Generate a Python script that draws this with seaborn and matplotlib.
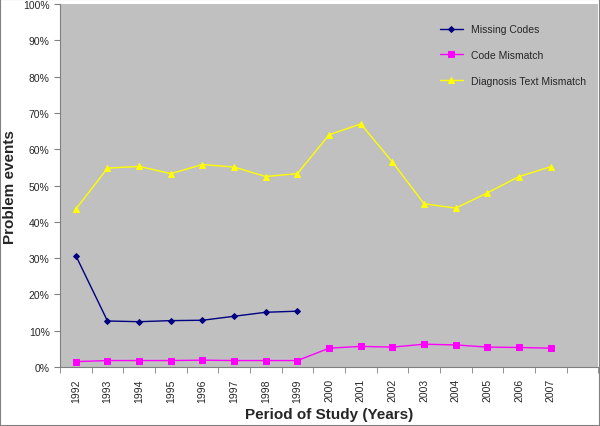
import numpy as np
import pandas as pd
import matplotlib
matplotlib.use("Agg")
import matplotlib.pyplot as plt
import seaborn as sns

years = list(range(1992, 2008))
missing_codes = [30.7, 12.7, 12.5, 12.8, 12.9, 14.0, 15.1, 15.4] + [np.nan] * 8
code_mismatch = [1.5, 1.8, 1.8, 1.8, 1.9, 1.8, 1.8, 1.8, 5.2, 5.7, 5.5, 6.3, 6.1, 5.5, 5.4, 5.2]
text_mismatch = [43.5, 54.8, 55.3, 53.3, 55.8, 55.1, 52.5, 53.3, 64.0, 67.0, 56.5, 45.0, 43.8, 48.0, 52.5, 55.2]

series = {
    "Missing Codes": (missing_codes, "#000080", "D", 3),
    "Code Mismatch": (code_mismatch, "#FF00FF", "s", 4),
    "Diagnosis Text Mismatch": (text_mismatch, "#FFFF00", "^", 4),
}

sns.set_style("ticks")
plt.rcParams["font.family"] = ["Liberation Sans", "DejaVu Sans"]

fig = plt.figure(figsize=(6, 4.27), dpi=100)
ax = fig.add_axes([0.1, 0.138, 0.897, 0.85])
ax.set_facecolor("#C0C0C0")

for name, (vals, color, marker, ms) in series.items():
    df = pd.DataFrame({"year": years, "value": np.array(vals) / 100})
    sns.lineplot(data=df.dropna(), x="year", y="value", ax=ax, color=color,
                 marker=marker, markersize=ms, markeredgecolor=color,
                 linewidth=1.0, label=name)

ax.set_xlim(1991.5, 2008.5)
ax.set_ylim(0, 1)
ax.set_yticks(np.arange(0, 1.01, 0.1))
ax.set_yticklabels([f"{int(round(v * 100))}%" for v in np.arange(0, 1.01, 0.1)], fontsize=7.5)
ax.set_xticks(years)
ax.set_xticklabels([str(y) for y in years], rotation=90, fontsize=7.5)
ax.tick_params(axis="x", length=0, pad=8)
ax.set_xticks(np.arange(1991.5, 2009, 1), minor=True)
ax.tick_params(axis="x", which="minor", length=4, color="#808080")
ax.tick_params(axis="y", length=4, color="#808080")

for side in ["top", "right"]:
    ax.spines[side].set_visible(False)
for side in ["left", "bottom"]:
    ax.spines[side].set_color("#808080")

ax.set_xlabel("Period of Study (Years)", fontsize=11, fontweight="bold")
ax.set_ylabel("Problem events", fontsize=11, fontweight="bold")

ax.legend(loc="upper right", bbox_to_anchor=(0.995, 0.97), frameon=False,
          fontsize=7.5, labelspacing=1.5, handlelength=2.2)

fig.patches.append(plt.Rectangle((0, 0), 1, 1, transform=fig.transFigure,
                                 fill=False, edgecolor="#808080", linewidth=1.5))
fig.savefig("out.png", dpi=100)
